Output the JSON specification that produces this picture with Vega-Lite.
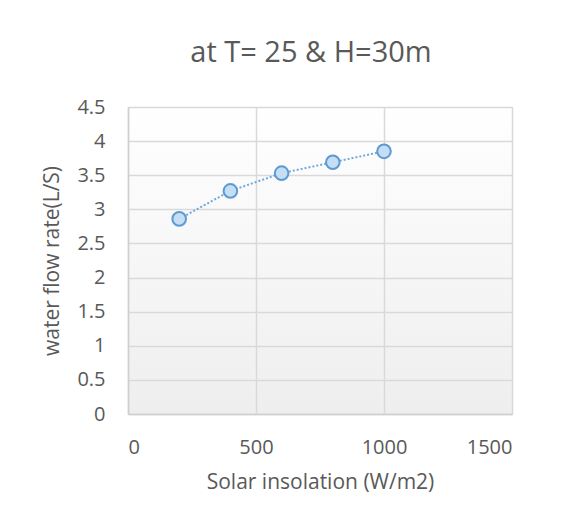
{
  "$schema": "https://vega.github.io/schema/vega-lite/v6.json",
  "width": 384,
  "height": 307,
  "autosize": "none",
  "padding": {"left": 128, "top": 107, "right": 49, "bottom": 112},
  "background": "white",
  "title": {
    "text": "at T= 25 & H=30m",
    "anchor": "middle",
    "dx": -9,
    "offset": 6,
    "baseline": "alphabetic",
    "font": "Open Sans",
    "fontSize": 29,
    "fontWeight": "normal",
    "color": "#595959"
  },
  "data": {
    "values": [
      {"insolation": 200, "flow": 2.86},
      {"insolation": 400, "flow": 3.27},
      {"insolation": 600, "flow": 3.53},
      {"insolation": 800, "flow": 3.69},
      {"insolation": 1000, "flow": 3.85}
    ]
  },
  "encoding": {
    "x": {
      "field": "insolation",
      "type": "quantitative",
      "scale": {"domain": [0, 1500], "nice": false},
      "axis": {
        "title": "Solar insolation (W/m2)",
        "values": [0, 500, 1000, 1500],
        "format": "d",
        "labelPadding": 23,
        "titlePadding": 14
      }
    },
    "y": {
      "field": "flow",
      "type": "quantitative",
      "scale": {"domain": [0, 4.5], "nice": false},
      "axis": {
        "title": "water flow rate(L/S)",
        "values": [0, 0.5, 1, 1.5, 2, 2.5, 3, 3.5, 4, 4.5],
        "format": "~g",
        "labelPadding": 23,
        "titlePadding": 14
      }
    }
  },
  "layer": [
    {
      "mark": {
        "type": "line",
        "color": "#6fa8dc",
        "strokeWidth": 2,
        "strokeDash": [2, 2]
      }
    },
    {
      "mark": {
        "type": "point",
        "shape": "circle",
        "filled": true,
        "size": 185,
        "fill": "#c6def4",
        "stroke": "#5b9bd5",
        "strokeWidth": 2,
        "opacity": 1
      }
    }
  ],
  "config": {
    "view": {
      "stroke": "#d9d9d9",
      "fill": {
        "gradient": "linear",
        "x1": 0, "y1": 0, "x2": 0, "y2": 1,
        "stops": [
          {"offset": 0, "color": "#ffffff"},
          {"offset": 1, "color": "#eeeeee"}
        ]
      }
    },
    "axis": {
      "domainColor": "#cfcfcf",
      "domainWidth": 1.5,
      "gridColor": "#d9d9d9",
      "gridWidth": 1.5,
      "ticks": false,
      "tickSize": 0,
      "labelFont": "Open Sans",
      "labelFontSize": 20,
      "labelColor": "#595959",
      "titleFont": "Open Sans",
      "titleFontSize": 21,
      "titleFontWeight": "normal",
      "titleColor": "#595959"
    }
  }
}
